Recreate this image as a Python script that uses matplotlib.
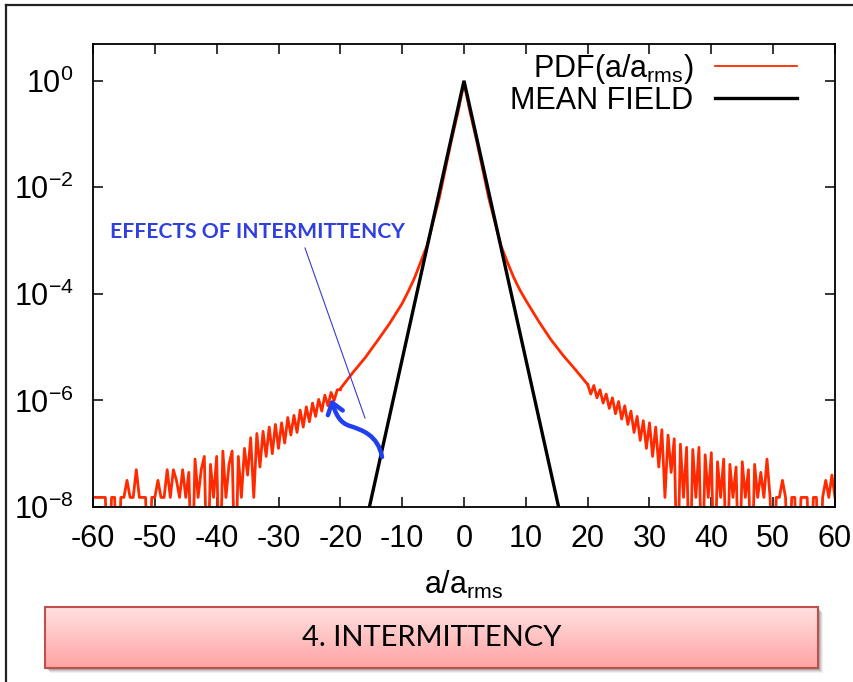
#!/usr/bin/env python3
"""Acceleration PDF vs mean-field prediction, log scale."""

import numpy as np
import matplotlib
matplotlib.use("Agg")
import matplotlib.pyplot as plt
from matplotlib.colors import LinearSegmentedColormap
from matplotlib.lines import Line2D
from matplotlib.patches import FancyArrowPatch, Rectangle
from matplotlib.path import Path

plt.rcParams["font.family"] = ["Liberation Sans", "DejaVu Sans"]
plt.rcParams["axes.unicode_minus"] = False

F = -7.82   # one-count floor of the histogram
E = -9.5    # empty bin, falls below the axis

# smooth core of the PDF, log10 values
CORE_X = [-20, -18, -16, -14, -12, -10, -9, -8, -7, -6, -5, -4, -3, -2, -1.5, -1, -0.5, 0,
          0.5, 1, 1.5, 2, 3, 4, 5, 6, 7, 8, 9, 10, 12, 14, 16, 18, 20]
CORE_LOG = [-5.78, -5.48, -5.2, -4.88, -4.55, -4.18, -3.95, -3.7, -3.4, -3.1, -2.65, -2.2, -1.65, -1.1, -0.85, -0.6, -0.32, -0.05,
            -0.32, -0.6, -0.85, -1.1, -1.65, -2.2, -2.65, -3.1, -3.4, -3.68, -3.92, -4.12, -4.5, -4.85, -5.15, -5.42, -5.7]

# noisy tails, bins of 0.5 from -60 to -20 and 20 to 60
TAIL_STEP = 0.5
LEFT_TAIL_LOG = [
    F, F, F, F, F, E, F, F, E, F,
    F, -7.5, F, F, -7.3, F, F, F, E, F,
    F, -7.5, F, F, -7.3, F, -7.3, -7.5, F, -7.3,
    F, -7.35, E, -7.1, F, -7.3, -7.05, E, -7.2, F,
    -7.05, E, -6.95, F, -7.2, -6.95, E, -7.05, F, -6.9,
    -7.4, -6.7, F, -6.62, -7.25, -6.58, -7.05, -6.5, -7.0, -6.45,
    -6.9, -6.42, -6.8, -6.32, -6.65, -6.28, -6.6, -6.18, -6.5, -6.12,
    -6.4, -6.05, -6.3, -5.98, -6.2, -5.9, -6.1, -5.85, -6.0, -5.8,
    -5.8,
]
RIGHT_TAIL_LOG = [
    -5.7, -5.88, -5.72, -5.95, -5.8, -6.05, -5.88, -6.15, -5.95, -6.25,
    -6.02, -6.35, -6.1, -6.45, -6.2, -6.6, -6.3, -6.75, -6.38, -6.9,
    -6.42, -7.05, -6.5, -7.25, -6.55, F, -6.65, -7.35, -6.72, E,
    -6.82, F, -6.88, E, -6.92, F, -6.88, E, -7.02, F,
    -6.98, E, -7.15, F, -7.1, E, -7.2, F, -7.25, E,
    -7.15, F, -7.3, E, -7.2, F, -7.35, F, -7.1, F,
    E, F, F, -7.5, F, E, F, F, E, F,
    F, F, E, F, F, E, F, -7.5, F, -7.4,
    F,
]

MEAN_X = [-15.3, 0.0, 15.3]
MEAN_LOG = [-8.0, 0.0, -8.0]

X_TICKS = list(range(-60, 61, 10))
Y_TICKS = [1e0, 1e-2, 1e-4, 1e-6, 1e-8]

RED = "#ff2a00"
BLUE = "#2f3fe0"


def px(x, y):
    """figure pixel (from top-left) -> figure fraction"""
    return x / 854.0, 1.0 - y / 682.0


def main():
    fig = plt.figure(figsize=(8.54, 6.82), dpi=100)
    ax = fig.add_axes([93 / 854, 1 - 507 / 682, (835 - 93) / 854, (507 - 44) / 682])

    left_x = np.arange(len(LEFT_TAIL_LOG)) * TAIL_STEP - 60
    right_x = np.arange(len(RIGHT_TAIL_LOG)) * TAIL_STEP + 20

    ax.plot(left_x, 10.0 ** np.array(LEFT_TAIL_LOG), color=RED, lw=2.0)
    ax.plot(right_x, 10.0 ** np.array(RIGHT_TAIL_LOG), color=RED, lw=2.0)
    ax.plot(CORE_X, 10.0 ** np.array(CORE_LOG), color=RED, lw=2.0)
    ax.plot(MEAN_X, 10.0 ** np.array(MEAN_LOG), color="black", lw=2.4, solid_joinstyle="miter")

    ax.set_yscale("log")
    ax.set_xlim(-60, 60)
    ax.set_ylim(1e-8, 4.9)
    ax.set_xticks(X_TICKS)
    ax.set_xticklabels([str(t) for t in X_TICKS])
    ax.set_yticks(Y_TICKS)
    ax.yaxis.set_minor_locator(matplotlib.ticker.NullLocator())
    ax.tick_params(direction="in", length=7, width=1.1, top=True, right=True, labelsize=22)
    ax.tick_params(axis="x", pad=12)
    ax.tick_params(axis="y", pad=14)
    for spine in ax.spines.values():
        spine.set_linewidth(1.3)
    ax.set_xlabel("a/a$_\\mathregular{rms}$", fontsize=22, labelpad=11)

    handles = [Line2D([], [], color=RED, lw=1.3), Line2D([], [], color="black", lw=2.4)]
    ax.legend(handles, ["PDF(a/a$_\\mathregular{rms}$)", "MEAN FIELD"], loc="upper right",
              bbox_to_anchor=(0.953, 0.99), markerfirst=False, frameon=False, fontsize=22,
              handlelength=2.7, handletextpad=0.7, labelspacing=0.0, borderaxespad=0.0,
              borderpad=0.1)

    # annotation
    fig.text(*px(110, 232), "EFFECTS OF INTERMITTENCY", color=BLUE, fontsize=15.2,
             fontweight="bold", family=["Lato", "DejaVu Sans"], va="center", ha="left")
    fig.add_artist(Line2D(*zip(px(305, 248), px(365, 418)), transform=fig.transFigure,
                          color="#3a3ad0", lw=0.8))
    verts = [px(382, 457), px(378, 435), px(362, 430), px(350, 426),
             px(340, 423), px(336, 415), px(331, 399)]
    codes = [Path.MOVETO] + [Path.CURVE4] * 6
    arrow = FancyArrowPatch(path=Path(verts, codes), transform=fig.transFigure,
                            arrowstyle="->,head_length=0.55,head_width=0.4",
                            mutation_scale=14, color="#1f3ff0", lw=3.2)
    fig.add_artist(arrow)

    # title box with gradient
    bx0, by1 = px(45, 607)
    bx1, by0 = px(818, 668)
    for off, alpha in [(5, 0.06), (4, 0.08), (3, 0.10), (2, 0.12)]:
        fig.add_artist(Rectangle((bx0 + off / 854, by0 - off / 682), bx1 - bx0, by1 - by0,
                                 transform=fig.transFigure, facecolor="black", alpha=alpha,
                                 edgecolor="none", zorder=-2))
    box_ax = fig.add_axes([bx0, by0, bx1 - bx0, by1 - by0])
    cmap = LinearSegmentedColormap.from_list("pink", ["#ffa3a3", "#ffe2e2"])
    box_ax.imshow(np.linspace(1, 0, 64)[:, None], aspect="auto", cmap=cmap, extent=[0, 1, 0, 1])
    box_ax.set_axis_off()
    fig.add_artist(Rectangle((bx0, by0), bx1 - bx0, by1 - by0, transform=fig.transFigure,
                             facecolor="none", edgecolor="#c0504d", lw=1.5))
    fig.text((bx0 + bx1) / 2, (by0 + by1) / 2, "4. INTERMITTENCY", fontsize=21,
             family=["Lato", "DejaVu Sans"], ha="center", va="center", color="black")

    # slide frame (top and left edges)
    fig.add_artist(Line2D(*zip(px(6, 5), px(854, 5)), transform=fig.transFigure, color="#222222", lw=1.6))
    fig.add_artist(Line2D(*zip(px(6, 5), px(6, 682)), transform=fig.transFigure, color="#222222", lw=1.6))

    fig.savefig("out.png", dpi=100)
    plt.close(fig)


if __name__ == "__main__":
    main()
